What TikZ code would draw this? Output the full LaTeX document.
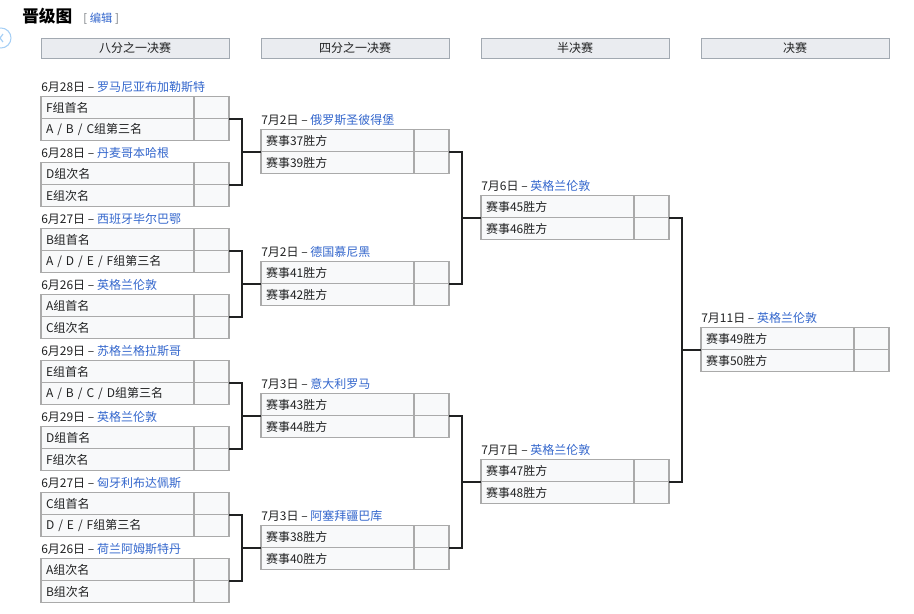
\documentclass[tikz,border=0pt]{standalone}
\usepackage{fontspec}
\setmainfont{Noto Sans CJK SC}
\usepackage{xcolor}
\usetikzlibrary{positioning, calc}
\definecolor{headgray}{HTML}{EAECF0}
\definecolor{bordergray}{HTML}{A2A9B1}
\definecolor{cellgray}{HTML}{F8F9FA}
\definecolor{cellline}{HTML}{AAAAAA}
\definecolor{linkblue}{HTML}{3366CC}
\definecolor{textblack}{HTML}{202122}
\definecolor{editgray}{HTML}{72777D}
\definecolor{iconblue}{HTML}{A6CFF5}
% one fixture: name, x, y of middle line, date, city, first team, second team
\newcommand{\fixture}[7]{%
  \node[namecell, anchor=south west] (#1-1) at (#2,#3) {#6};
  \node[scorecell, right=0pt of #1-1] (#1-1s) {};
  \node[namecell, below=0pt of #1-1] (#1-2) {#7};
  \node[scorecell, right=0pt of #1-2] (#1-2s) {};
  \node[datelabel, above right=2.5pt and 0pt of #1-1.north west] (#1-d) {#4 -- \textcolor{linkblue}{#5}};
}

\begin{document}
\begin{tikzpicture}[
    x=0.75pt, y=-0.75pt,
    font=\fontsize{9pt}{11pt}\selectfont,
    header/.style={rectangle, draw=bordergray, fill=headgray, minimum width=141pt, minimum height=15pt, inner sep=0pt, outer sep=0pt, text=textblack},
    namecell/.style={rectangle, draw=cellline, fill=cellgray, line width=0.9pt, text width=107.25pt, inner xsep=3.75pt, inner ysep=0pt, outer sep=0pt, minimum height=16.5pt, align=left, text=textblack},
    scorecell/.style={rectangle, draw=cellline, fill=cellgray, line width=0.9pt, minimum width=26.25pt, minimum height=16.5pt, inner sep=0pt, outer sep=0pt},
    datelabel/.style={inner sep=0pt, text=textblack},
    bracket/.style={draw=textblack, line width=1.5pt}
]
\useasboundingbox (0,0) rectangle (914,614);

% Title
\node[anchor=west, inner sep=0pt, text=black, font=\fontsize{12.5pt}{14pt}\selectfont\bfseries] (title) at (22,16) {晋级图};
\node[right=8pt of title.base east, anchor=base west, inner sep=0pt, text=editgray, font=\fontsize{8.5pt}{10pt}\selectfont] (edit) {[ \textcolor{linkblue}{编辑} ]};
\draw[iconblue, line width=0.8pt] (1,38) circle[radius=10];
\draw[iconblue, line width=0.9pt] (3,34) -- (0,38) -- (3,42);

% Round headers
\node[header, anchor=north west] (h1) at (41,38) {八分之一决赛};
\node[header, right=24pt of h1] (h2) {四分之一决赛};
\node[header, right=24pt of h2] (h3) {半决赛};
\node[header, right=24pt of h3] (h4) {决赛};

% Round of 16
\fixture{r1}{41}{118.5}{6月28日}{罗马尼亚布加勒斯特}{F组首名}{A / B / C组第三名}
\fixture{r2}{41}{184.5}{6月28日}{丹麦哥本哈根}{D组次名}{E组次名}
\fixture{r3}{41}{250.5}{6月27日}{西班牙毕尔巴鄂}{B组首名}{A / D / E / F组第三名}
\fixture{r4}{41}{316.5}{6月26日}{英格兰伦敦}{A组首名}{C组次名}
\fixture{r5}{41}{382.5}{6月29日}{苏格兰格拉斯哥}{E组首名}{A / B / C / D组第三名}
\fixture{r6}{41}{448.5}{6月29日}{英格兰伦敦}{D组首名}{F组次名}
\fixture{r7}{41}{514.5}{6月27日}{匈牙利布达佩斯}{C组首名}{D / E / F组第三名}
\fixture{r8}{41}{580.5}{6月26日}{荷兰阿姆斯特丹}{A组次名}{B组次名}

% Quarter-finals
\fixture{q1}{261}{151.5}{7月2日}{俄罗斯圣彼得堡}{赛事37胜方}{赛事39胜方}
\fixture{q2}{261}{283.5}{7月2日}{德国慕尼黑}{赛事41胜方}{赛事42胜方}
\fixture{q3}{261}{415.5}{7月3日}{意大利罗马}{赛事43胜方}{赛事44胜方}
\fixture{q4}{261}{547.5}{7月3日}{阿塞拜疆巴库}{赛事38胜方}{赛事40胜方}

% Semi-finals
\fixture{s1}{481}{217.5}{7月6日}{英格兰伦敦}{赛事45胜方}{赛事46胜方}
\fixture{s2}{481}{481.5}{7月7日}{英格兰伦敦}{赛事47胜方}{赛事48胜方}

% Final
\fixture{f1}{701}{349.5}{7月11日}{英格兰伦敦}{赛事49胜方}{赛事50胜方}

% Junctions
\coordinate (j1) at ($(q1-1.south west)+(-19.5,0)$);
\coordinate (j2) at ($(q2-1.south west)+(-19.5,0)$);
\coordinate (j3) at ($(q3-1.south west)+(-19.5,0)$);
\coordinate (j4) at ($(q4-1.south west)+(-19.5,0)$);
\coordinate (j5) at ($(s1-1.south west)+(-19.5,0)$);
\coordinate (j6) at ($(s2-1.south west)+(-19.5,0)$);
\coordinate (j7) at ($(f1-1.south west)+(-19.5,0)$);

% Brackets
\draw[bracket] (r1-1s.south east) -| (j1) |- (r2-1s.south east) (j1) -- (q1-1.south west);
\draw[bracket] (r3-1s.south east) -| (j2) |- (r4-1s.south east) (j2) -- (q2-1.south west);
\draw[bracket] (r5-1s.south east) -| (j3) |- (r6-1s.south east) (j3) -- (q3-1.south west);
\draw[bracket] (r7-1s.south east) -| (j4) |- (r8-1s.south east) (j4) -- (q4-1.south west);
\draw[bracket] (q1-1s.south east) -| (j5) |- (q2-1s.south east) (j5) -- (s1-1.south west);
\draw[bracket] (q3-1s.south east) -| (j6) |- (q4-1s.south east) (j6) -- (s2-1.south west);
\draw[bracket] (s1-1s.south east) -| (j7) |- (s2-1s.south east) (j7) -- (f1-1.south west);

\end{tikzpicture}
\end{document}
